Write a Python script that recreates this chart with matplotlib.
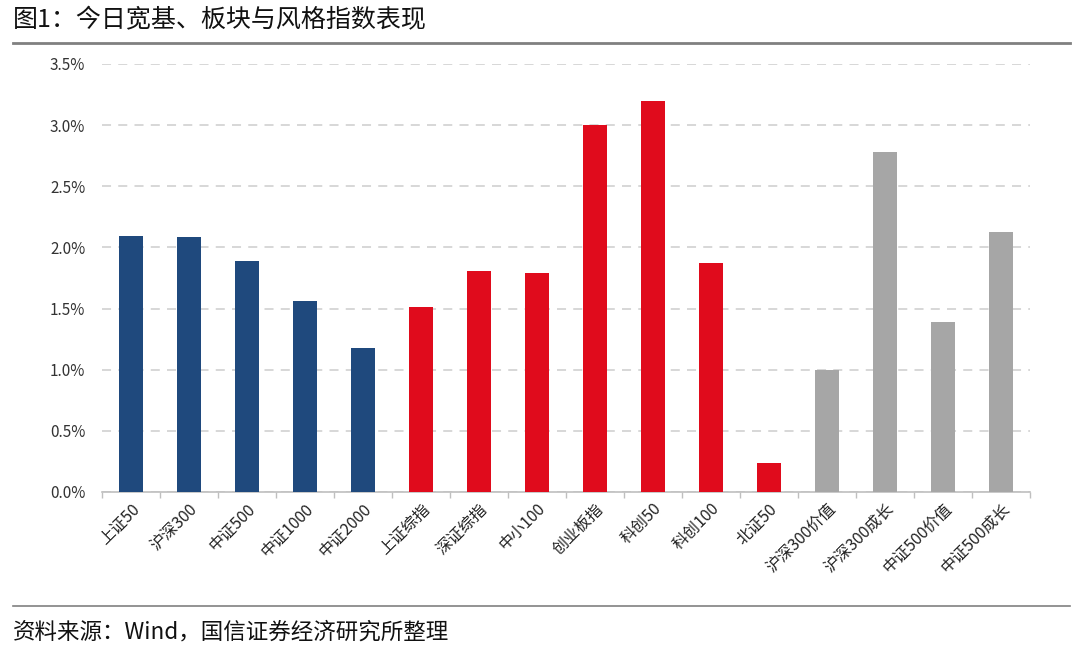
import matplotlib.pyplot as plt
from matplotlib.ticker import FuncFormatter, FixedLocator
import numpy as np

plt.rcParams['font.family'] = ['Noto Sans CJK SC', 'DejaVu Sans']

# %%
# Data
categories = ['上证50', '沪深300', '中证500', '中证1000', '中证2000',
              '上证综指', '深证综指', '中小100', '创业板指', '科创50', '科创100', '北证50',
              '沪深300价值', '沪深300成长', '中证500价值', '中证500成长']
values = [2.09, 2.085, 1.89, 1.56, 1.18,
          1.51, 1.81, 1.79, 3.00, 3.20, 1.87, 0.24,
          1.00, 2.78, 1.39, 2.13]
groups = ['wide'] * 5 + ['board'] * 7 + ['style'] * 4
group_colors = {'wide': '#1F497D', 'board': '#E00B1C', 'style': '#A6A6A6'}

# %%
fig = plt.figure(figsize=(10.8, 6.49), dpi=100)
ax = fig.add_axes([102 / 1080, 1 - 492 / 649, 928 / 1080, 428 / 649])

x = np.arange(len(categories))
ax.bar(x, values, width=0.4, color=[group_colors[g] for g in groups], zorder=3)

ax.set_xlim(-0.5, len(categories) - 0.5)
ax.set_ylim(0, 3.5)
ax.set_yticks(np.arange(0, 3.51, 0.5))
ax.yaxis.set_major_formatter(FuncFormatter(lambda v, p: f'{v:.1f}%'))
ax.tick_params(axis='y', length=0, labelsize=11, colors='#333333', pad=12)
ax.grid(axis='y', color='#D4D4D4', linestyle=(0, (5, 4)), linewidth=1.3, zorder=0)

ax.set_xticks(x)
ax.set_xticklabels(categories, rotation=45, ha='right', rotation_mode='anchor',
                   fontsize=11.5, color='#222222')
ax.tick_params(axis='x', length=0, pad=6)
ax.xaxis.set_minor_locator(FixedLocator(np.arange(-0.5, len(categories), 1)))
ax.tick_params(axis='x', which='minor', length=4, color='#BFBFBF', width=1)

for s in ['top', 'right', 'left']:
    ax.spines[s].set_visible(False)
ax.spines['bottom'].set_color('#BFBFBF')
ax.spines['bottom'].set_linewidth(1.2)

# title, rules and source
fig.text(13 / 1080, 1 - 20 / 649, '图1：今日宽基、板块与风格指数表现', fontsize=18,
         va='center', ha='left', color='#111111')
fig.add_artist(plt.Line2D([13 / 1080, 1070 / 1080], [1 - 43 / 649, 1 - 43 / 649],
                          color='#808080', linewidth=2))
fig.add_artist(plt.Line2D([13 / 1080, 1070 / 1080], [1 - 606 / 649, 1 - 606 / 649],
                          color='#808080', linewidth=1.2))
fig.text(13 / 1080, 1 - 632 / 649, '资料来源：Wind，国信证券经济研究所整理', fontsize=16.2,
         va='center', ha='left', color='#111111')

fig.savefig('out.png', dpi=100, facecolor='white')
